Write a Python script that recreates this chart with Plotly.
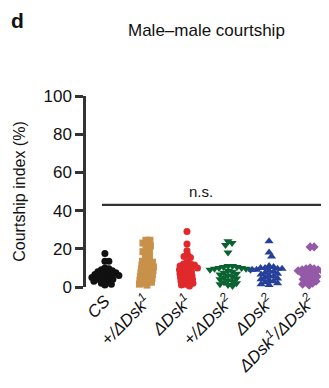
import numpy as np
import plotly.graph_objects as go

categories = ["CS", "+/ΔDsk1", "ΔDsk1", "+/ΔDsk2", "ΔDsk2", "ΔDsk1/ΔDsk2"]
tick_labels = ["<i>CS</i>", "<i>+/ΔDsk<sup>1</sup></i>", "<i>ΔDsk<sup>1</sup></i>",
               "<i>+/ΔDsk<sup>2</sup></i>", "<i>ΔDsk<sup>2</sup></i>",
               "<i>ΔDsk<sup>1</sup>/ΔDsk<sup>2</sup></i>"]

cs_vals = [17.5, 13.5, 13.5, 10, 9.5, 9, 8.5, 8, 8, 7.5, 7, 7, 6.5, 6, 6, 5.5, 5, 5, 4.5, 4, 4,
           3.5, 3, 2.5, 2, 1.5, 1]
dsk1_het_vals = [24.5, 24.5, 23, 22, 21.5, 20, 19, 18.5, 17, 16, 15, 14, 13.5, 13, 12, 11.5, 11,
                 10.5, 10, 9.5, 9, 8.5, 8, 7.5, 7, 6.5, 6, 5.5, 5, 4.5, 4, 3.5, 3, 2.5, 2, 1.5, 1]
dsk1_vals = [29, 22.5, 19, 17, 16, 15.5, 13, 12, 12, 11.5, 11, 10.5, 10, 10, 9.5, 9, 8.5, 8, 7.5,
             7, 6.5, 6, 5.5, 5, 4.5, 4, 3.5, 3, 2.5, 2, 1.5, 1, 0.5]
dsk2_het_vals = [24, 23, 22, 18, 11, 11, 10.5, 10.5, 10, 10, 9.5, 9.5, 9, 9, 8.5, 8, 7.5, 7, 6.5,
                 6, 5.5, 5, 4.5, 4, 3.5, 3, 2.5, 2, 1.5, 1, 0.5]
dsk2_vals = [24, 18, 16, 11, 10.5, 10, 10, 9.5, 9.5, 9, 9, 8.5, 8, 7.5, 7, 6.5, 6, 5.5, 5, 4.5, 4,
             3.5, 3, 2.5, 2, 1.5, 1]
trans_vals = [21, 21, 10, 9.5, 9.5, 9, 9, 8.5, 8.5, 8, 8, 7.5, 7, 6.5, 6, 5.5, 5, 4.5, 4, 3.5, 3,
              2.5, 2, 1.5, 1]

ns_level = 43

series = [cs_vals, dsk1_het_vals, dsk1_vals, dsk2_het_vals, dsk2_vals, trans_vals]
colors = ["#111111", "#C8914A", "#E0292B", "#0B6331", "#26409A", "#9459A8"]
symbols = ["circle", "square", "circle", "triangle-down", "triangle-up", "diamond"]
sizes = [7, 7, 7, 8, 8, 7]

# page body has an 8px offset; compensate
OFF = 8
W, H = 329, 388
ml, mr, mt, mb = 86 - OFF, OFF, 96 - OFF, 101 + OFF
xr = [-0.46, 5.46]
pw = W - ml - mr
ph = H - mt - mb
px_per_x = pw / (xr[1] - xr[0])
px_per_y = ph / 100.0


def swarm(vals, d):
    placed = []
    order = np.argsort(-np.array(vals), kind="stable")
    res = [0.0] * len(vals)
    cands = [0.0]
    for k in range(1, 80):
        cands += [k * 0.5, -k * 0.5]
    for i in order:
        y = vals[i] * px_per_y
        for c in cands:
            if all((px - c) ** 2 + (py - y) ** 2 >= d * d for (px, py) in placed):
                placed.append((c, y))
                res[i] = c
                break
    return res


fig = go.Figure()
for i, vals in enumerate(series):
    offs = swarm(vals, sizes[i] * 0.55)
    xs = [i + o / px_per_x for o in offs]
    fig.add_trace(go.Scatter(
        x=xs, y=vals, mode="markers", cliponaxis=False,
        marker=dict(symbol=symbols[i], color=colors[i], size=sizes[i], line=dict(width=0)),
        showlegend=False))

fig.add_shape(type="line", xref="x", yref="y", x0=-0.07, x1=xr[1], y0=ns_level, y1=ns_level,
              line=dict(color="#333333", width=2.2))
fig.add_annotation(x=2.35, y=ns_level, xref="x", yref="y", text="n.s.", showarrow=False,
                   yshift=13, font=dict(size=15, color="#111111"))
fig.add_annotation(x=(206 - OFF - ml) / pw, y=1 + (mt - (31 - OFF)) / ph, xref="paper", yref="paper",
                   text="Male–male courtship", showarrow=False,
                   xanchor="center", yanchor="middle", font=dict(size=17, color="#111111"))
fig.add_annotation(x=(17 - OFF - ml) / pw, y=1 + (mt - (20 - OFF)) / ph, xref="paper", yref="paper",
                   text="<b>d</b>", showarrow=False, font=dict(size=21, color="#111111"),
                   xanchor="center", yanchor="middle")

fig.update_layout(
    width=W, height=H,
    margin=dict(l=ml, r=mr, t=mt, b=mb, autoexpand=False),
    paper_bgcolor="white", plot_bgcolor="white",
    font=dict(family="Liberation Sans, Arial, sans-serif", color="#111111"),
    xaxis=dict(range=xr, tickvals=list(range(6)), ticktext=tick_labels, tickangle=-45,
               showline=False, showgrid=False, zeroline=False, ticks="", automargin=False,
               tickfont=dict(size=17, color="#111111")),
    yaxis=dict(range=[0, 100], tickvals=[0, 20, 40, 60, 80, 100], showline=True,
               linecolor="#333333", linewidth=2.5, ticks="outside", ticklen=8, tickwidth=2.5,
               tickcolor="#333333", showgrid=False, zeroline=False, automargin=False,
               tickfont=dict(size=17, color="#111111"),
               title=dict(text="Courtship index (%)", font=dict(size=16, color="#111111"), standoff=14)),
)

fig.write_html("out.html")
